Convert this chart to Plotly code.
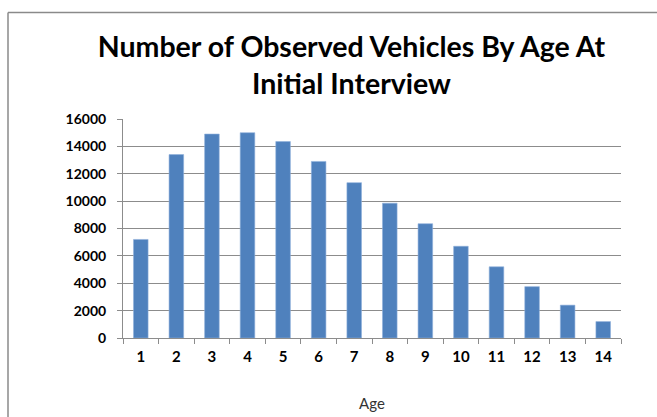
import plotly.graph_objects as go

# Vehicle counts by age at initial interview
ages = ["1", "2", "3", "4", "5", "6", "7", "8", "9", "10", "11", "12", "13", "14"]
vehicles = [7200, 13400, 14900, 15000, 14350, 12900, 11350, 9850, 8350, 6700, 5200, 3750, 2400, 1200]
y_ticks = [0, 2000, 4000, 6000, 8000, 10000, 12000, 14000, 16000]
y_tick_text = [str(v) for v in y_ticks]

W, H = 657, 417
L, R, T, B = 123, 36, 119, 79
pw, ph = W - L - R, H - T - B

def px_x(x):
    return (x - L) / pw

def px_y(y):
    return (H - B - y) / ph

fig = go.Figure(
    go.Bar(
        x=ages,
        y=vehicles,
        marker=dict(color="#4F81BD", line=dict(color="#8fb0dc", width=0.6)),
        width=0.41,
    )
)

grid = "#8c8c8c"
fig.update_layout(
    width=W,
    height=H,
    margin=dict(l=L, r=R, t=T, b=B),
    paper_bgcolor="white",
    plot_bgcolor="white",
    showlegend=False,
    title=dict(
        text="Number of Observed Vehicles By Age At<br>Initial Interview",
        font=dict(family="Lato", size=28.5, color="#000000", weight="bold"),
        x=0.535,
        xanchor="center",
        y=1 - 57 / H,
        yanchor="middle",
    ),
    xaxis=dict(
        type="category",
        automargin=False,
        tickson="boundaries",
        ticks="outside",
        ticklen=5,
        tickcolor=grid,
        showline=True,
        linecolor=grid,
        linewidth=1,
        showgrid=False,
        ticklabelstandoff=5,
        tickfont=dict(family="Lato", size=15, color="#000000", weight="bold"),
        title=dict(
            text="Age",
            font=dict(family="Lato", size=15, color="#333333"),
            standoff=34,
        ),
    ),
    yaxis=dict(
        range=[0, 16000],
        automargin=False,
        tickvals=y_ticks,
        ticktext=y_tick_text,
        ticks="outside",
        ticklen=5,
        tickcolor=grid,
        showline=True,
        linecolor=grid,
        linewidth=1,
        showgrid=True,
        gridcolor=grid,
        gridwidth=1,
        zeroline=False,
        ticklabelstandoff=8,
        tickfont=dict(family="Lato", size=14, color="#000000", weight="bold"),
    ),
    shapes=[
        # outer chart frame: left and top edges
        dict(type="line", xref="paper", yref="paper",
             x0=px_x(8), x1=px_x(8), y0=px_y(12.5), y1=px_y(440),
             line=dict(color="#8a8a8a", width=1.5)),
        dict(type="line", xref="paper", yref="paper",
             x0=px_x(8), x1=px_x(700), y0=px_y(12.5), y1=px_y(12.5),
             line=dict(color="#8a8a8a", width=1.5)),
    ],
)

fig.write_html("out.html")
